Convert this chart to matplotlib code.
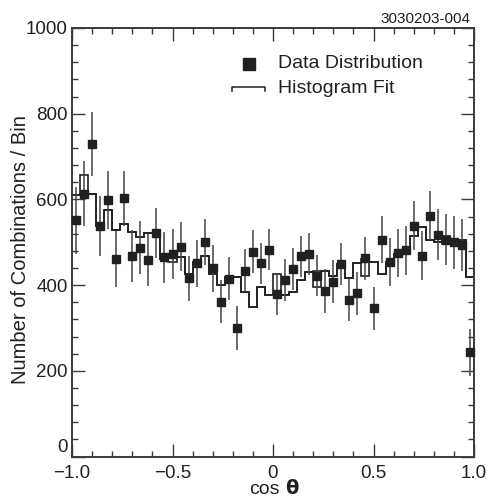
import numpy as np
import matplotlib
matplotlib.use("Agg")
import matplotlib.pyplot as plt
from matplotlib.ticker import FixedLocator, FixedFormatter, MultipleLocator

plt.rcParams['font.family'] = ['Liberation Sans', 'DejaVu Sans']

# ---- data ----
data_vals = [551, 613, 729, 538, 599, 461, 603, 468, 487, 459,
             521, 465, 473, 490, 416, 451, 501, 439, 361, 415,
             300, 434, 478, 451, 483, 379, 412, 438, 467, 473,
             422, 387, 408, 450, 366, 381, 463, 346, 506, 453,
             475, 481, 539, 469, 562, 518, 506, 500, 494, 243]
data_err = [79, 76, 74, 71, 68, 66, 64, 60, 62, 60,
            58, 59, 58, 57, 53, 55, 54, 54, 50, 50,
            52, 50, 50, 48, 48, 48, 50, 49, 48, 49,
            48, 51, 50, 49, 50, 50, 50, 50, 55, 56,
            56, 57, 58, 58, 57, 60, 60, 62, 60, 55]
hist_fit = [611, 657, 613, 538, 575, 528, 543, 523, 513, 521,
            521, 462, 468, 465, 426, 455, 468, 425, 400, 420,
            420, 383, 348, 395, 377, 426, 378, 383, 412, 430,
            432, 432, 422, 450, 416, 451, 462, 455, 426, 455,
            472, 482, 515, 535, 505, 500, 515, 505, 505, 420]
hist_fit_alt = [611, 613, 613, 538, 575, 528, 543, 523, 513, 521,
                521, 462, 455, 465, 426, 455, 468, 425, 400, 420,
                420, 383, 348, 395, 377, 378, 378, 383, 412, 430,
                395, 432, 422, 450, 416, 451, 422, 455, 426, 455,
                472, 482, 515, 535, 505, 500, 495, 505, 505, 420]
x_range = (-1.0, 1.0)
n_bins = len(data_vals)
x_tick_vals = [-1.0, -0.5, 0.0, 0.5, 1.0]
x_tick_labels = ['\u22121.0', '\u22120.5', '0', '0.5', '1.0']
y_tick_vals = [0, 200, 400, 600, 800, 1000]
y_tick_labels = ['0', '200', '400', '600', '800', '1000']

edges = np.linspace(x_range[0], x_range[1], n_bins + 1)
centers = 0.5 * (edges[:-1] + edges[1:])

ink = '#231f20'
axcol = '#3a3a3a'

fig = plt.figure(figsize=(4.90, 4.97), dpi=100)
ax = fig.add_axes([72/490, 40.5/497, 402/490, 428.5/497])

ax.stairs(hist_fit_alt, edges, baseline=None, color=ink, lw=1.2, zorder=2)
ax.stairs(hist_fit, edges, baseline=None, color=ink, lw=1.2, zorder=2)
ax.errorbar(centers, data_vals, yerr=data_err, fmt='s', ms=5.8,
            color=ink, ecolor='#444444', elinewidth=1.1, capsize=0, zorder=3,
            clip_on=False)

ax.set_xlim(*x_range)
ax.set_ylim(0, 1000)

ax.xaxis.set_major_locator(FixedLocator(x_tick_vals))
ax.xaxis.set_major_formatter(FixedFormatter(x_tick_labels))
ax.xaxis.set_minor_locator(MultipleLocator(0.1))
ax.yaxis.set_major_locator(FixedLocator(y_tick_vals))
ax.yaxis.set_major_formatter(FixedFormatter(y_tick_labels))
ax.yaxis.set_minor_locator(MultipleLocator(40))

ax.tick_params(which='both', direction='in', top=True, right=True,
               color=axcol, labelcolor=ink, labelsize=13.5)
ax.tick_params(which='major', length=9.5, width=1.0)
ax.tick_params(which='minor', length=4.5, width=1.0)
ax.tick_params(axis='x', pad=6)
ax.tick_params(axis='y', pad=3)
for sp in ax.spines.values():
    sp.set_color(axcol)
    sp.set_linewidth(1.4)

fig.canvas.draw()
ylabs = ax.get_yticklabels()
ylabs[0].set_va('bottom')

ax.set_ylabel('Number of Combinations / Bin', fontsize=14.5, color=ink)
ax.yaxis.set_label_coords(-42/402, (456.5 - 250) / 428.5)

# x label: "cos" + bold theta
fig.text(264/490, 1 - 489/497, 'cos', fontsize=14, color=ink, ha='center', va='center')
fig.text(292/490, 1 - 489/497, '\u03b8', fontsize=14, color=ink, ha='center', va='center',
         fontweight='bold', family=['DejaVu Sans'])

# figure id
fig.text(470/490, 1 - 19/497, '3030203-004', fontsize=11, color=ink, ha='right', va='center')

# legend (drawn manually)
def ax_xy(px, py):
    return ((px - 72) / 402, (456.5 - py) / 428.5)

sx, sy = ax_xy(249, 64)
ax.plot([sx], [sy], 's', ms=8.5, color=ink, transform=ax.transAxes, clip_on=False)
tx, ty = ax_xy(278, 64)
ax.text(tx, ty, 'Data Distribution', fontsize=14, color=ink, va='center', ha='left',
        transform=ax.transAxes)
tx2, ty2 = ax_xy(278, 89)
ax.text(tx2, ty2, 'Histogram Fit', fontsize=14, color=ink, va='center', ha='left',
        transform=ax.transAxes)
l0x, l0y = ax_xy(232, 87)
l1x, l1y = ax_xy(265, 91)
ax.plot([l0x, l0x, l1x, l1x], [l1y, l0y, l0y, l1y], color=ink, lw=1.1,
        transform=ax.transAxes, clip_on=False)

fig.savefig('out.png', dpi=100)
